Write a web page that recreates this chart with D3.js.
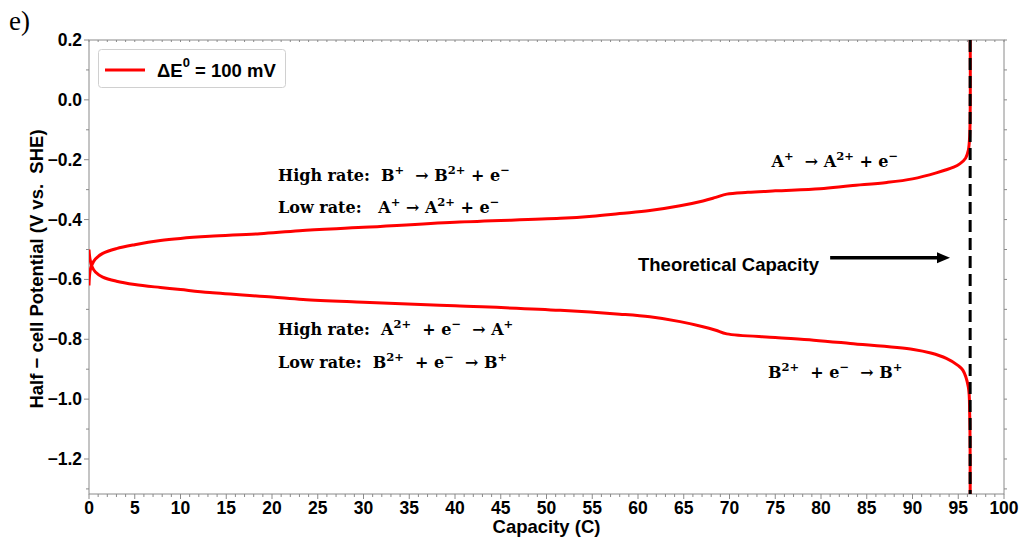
<!DOCTYPE html>
<html>
<head>
<meta charset="utf-8">
<script src="https://cdn.jsdelivr.net/npm/d3@7"></script>
<style>
  body { margin: 0; background: #fff; }
  text { white-space: pre; }
</style>
</head>
<body>
<div id="chart"></div>
<script>
// capacity (C) and potential (V)
var chargeCap = [0, 0.1, 0.3, 0.7, 1.5, 3, 5, 7.8, 10, 13.2, 18.7, 23, 30, 40, 51.5, 55, 58, 61.3, 64.6, 67.1, 68.5, 69.7, 72, 75, 79.9, 83.2, 87.2, 90, 92.6, 94.5, 95.2, 95.8, 96.1, 96.25, 96.3];
var chargeV   = [-0.62, -0.575, -0.552, -0.532, -0.513, -0.497, -0.484, -0.470, -0.463, -0.456, -0.447, -0.437, -0.426, -0.409, -0.396, -0.389, -0.380, -0.370, -0.354, -0.338, -0.326, -0.315, -0.309, -0.304, -0.297, -0.287, -0.276, -0.264, -0.244, -0.225, -0.213, -0.195, -0.169, -0.12, 0.25];

var dischargeCap = [0, 0.1, 0.3, 0.7, 1.5, 3, 5, 7.8, 10, 13.2, 20, 23.4, 30, 40, 51.5, 58, 61.3, 64.6, 67.1, 68.5, 69.7, 75, 79.2, 83.2, 90.1, 92, 93.7, 95, 95.5, 96.1, 96.25, 96.3];
var dischargeV   = [-0.50, -0.53, -0.555, -0.575, -0.592, -0.606, -0.617, -0.627, -0.634, -0.644, -0.659, -0.667, -0.676, -0.688, -0.703, -0.716, -0.725, -0.741, -0.758, -0.770, -0.782, -0.794, -0.803, -0.814, -0.834, -0.846, -0.864, -0.888, -0.903, -0.959, -1.05, -1.40];

var theoCap = 96.3;
var xTicks = d3.range(0, 101, 5);
var yTicks = [0.2, 0.0, -0.2, -0.4, -0.6, -0.8, -1.0, -1.2];

// annotation text: [capacity, potential, parts]  (parts: [text, superscript?])
var notes = [
  [20.66, -0.272, [["High rate:  B",0],["+",1],["  \u2192 B",0],["2+",1],[" + e",0],["\u2212",1]]],
  [20.66, -0.379, [["Low rate:   A",0],["+",1],[" \u2192 A",0],["2+",1],[" + e",0],["\u2212",1]]],
  [20.66, -0.786, [["High rate:  A",0],["2+",1],["  + e",0],["\u2212",1],["  \u2192 A",0],["+",1]]],
  [20.66, -0.896, [["Low rate:  B",0],["2+",1],["  + e",0],["\u2212",1],["  \u2192 B",0],["+",1]]],
  [74.6, -0.225, [["A",0],["+",1],["  \u2192 A",0],["2+",1],[" + e",0],["\u2212",1]]],
  [74.2, -0.930, [["B",0],["2+",1],["  + e",0],["\u2212",1],["  \u2192 B",0],["+",1]]]
];

var W = 1019, H = 539;
var svg = d3.select("#chart").append("svg")
  .attr("width", W).attr("height", H)
  .style("font-family", "'Liberation Sans', Arial, sans-serif");

var x = d3.scaleLinear().domain([0, 100]).range([89, 1004]);
var y = d3.scaleLinear().domain([-1.317, 0.2]).range([494, 40]);

svg.append("clipPath").attr("id", "clip")
  .append("rect")
  .attr("x", x(0)).attr("y", y(0.2))
  .attr("width", x(100) - x(0)).attr("height", y(-1.317) - y(0.2));

var gray = "#8a8a8a";

// frame
svg.append("rect")
  .attr("x", x(0)).attr("y", y(0.2))
  .attr("width", x(100) - x(0)).attr("height", y(-1.317) - y(0.2))
  .attr("fill", "none").attr("stroke", gray).attr("stroke-width", 1);

// bottom axis
var xAxis = svg.append("g").attr("transform", "translate(0," + y(-1.317) + ")");
xAxis.selectAll(".minor").data(d3.range(0, 101, 1)).enter().append("line")
  .attr("x1", function(d) { return x(d); }).attr("x2", function(d) { return x(d); })
  .attr("y1", 0).attr("y2", function(d) { return d % 5 == 0 ? 5 : 3; })
  .attr("stroke", gray);
xAxis.selectAll(".lab").data(xTicks).enter().append("text")
  .attr("x", function(d) { return x(d); }).attr("y", 20)
  .attr("text-anchor", "middle")
  .attr("font-size", 17.5).attr("font-weight", "bold")
  .text(function(d) { return d; });

// top ticks
svg.append("g").selectAll("line").data(d3.range(0, 101, 1)).enter().append("line")
  .attr("x1", function(d) { return x(d); }).attr("x2", function(d) { return x(d); })
  .attr("y1", y(0.2)).attr("y2", y(0.2) + 2)
  .attr("stroke", gray);

// left axis
var yMinor = d3.range(-13, 3).map(function(d) { return d / 10; });
var yAxis = svg.append("g").attr("transform", "translate(" + x(0) + ",0)");
yAxis.selectAll("line").data(yMinor).enter().append("line")
  .attr("y1", function(d) { return y(d); }).attr("y2", function(d) { return y(d); })
  .attr("x1", 0).attr("x2", function(d) { return Math.round(d * 10) % 2 == 0 ? -5 : -3; })
  .attr("stroke", gray);
yAxis.selectAll("text").data(yTicks).enter().append("text")
  .attr("x", -7).attr("y", function(d) { return y(d) + 6; })
  .attr("text-anchor", "end")
  .attr("font-size", 17.5).attr("font-weight", "bold")
  .text(function(d) { return d3.format(".1f")(d).replace("-", "\u2212"); });

// right ticks
svg.append("g").selectAll("line").data(yMinor).enter().append("line")
  .attr("y1", function(d) { return y(d); }).attr("y2", function(d) { return y(d); })
  .attr("x1", x(100)).attr("x2", x(100) + 3)
  .attr("stroke", gray);

// axis titles
svg.append("text")
  .attr("x", (x(0) + x(100)) / 2).attr("y", 533)
  .attr("text-anchor", "middle")
  .attr("font-size", 18.5).attr("font-weight", "bold")
  .text("Capacity (C)");
svg.append("text")
  .attr("transform", "translate(43," + ((y(0.2) + y(-1.317)) / 2 + 2) + ") rotate(-90)")
  .attr("text-anchor", "middle")
  .attr("font-size", 18.5).attr("font-weight", "bold")
  .text("Half \u2212 cell Potential (V vs.  SHE)");

// curves
var line = d3.line()
  .curve(d3.curveCatmullRom.alpha(0.5))
  .x(function(d) { return x(d[0]); })
  .y(function(d) { return y(d[1]); });

var plot = svg.append("g").attr("clip-path", "url(#clip)");

plot.append("path")
  .datum(d3.zip(chargeCap, chargeV))
  .attr("d", line)
  .attr("fill", "none").attr("stroke", "#ff0000").attr("stroke-width", 3)
  .attr("stroke-linejoin", "round");
plot.append("path")
  .datum(d3.zip(dischargeCap, dischargeV))
  .attr("d", line)
  .attr("fill", "none").attr("stroke", "#ff0000").attr("stroke-width", 3)
  .attr("stroke-linejoin", "round");

// theoretical capacity line (on top of the curves)
plot.append("line")
  .attr("x1", x(theoCap)).attr("x2", x(theoCap))
  .attr("y1", y(0.2)).attr("y2", y(-1.317))
  .attr("stroke", "#000").attr("stroke-width", 3)
  .attr("stroke-dasharray", "12,6");

// annotations
notes.forEach(function(n) {
  var t = svg.append("text")
    .attr("x", x(n[0])).attr("y", y(n[1]))
    .attr("font-family", "'DejaVu Serif', 'Liberation Serif', serif")
    .attr("font-size", 16).attr("font-weight", "bold");
  var up = false;
  n[2].forEach(function(p) {
    var s = t.append("tspan").text(p[0]);
    if (p[1] && !up) { s.attr("dy", -7).attr("font-size", 11.5); up = true; }
    else if (p[1]) { s.attr("font-size", 11.5); }
    else if (up) { s.attr("dy", 7); up = false; }
  });
});

svg.append("text")
  .attr("x", x(60)).attr("y", y(-0.571))
  .attr("font-size", 18.5).attr("font-weight", "bold")
  .text("Theoretical Capacity");

// arrow
svg.append("line")
  .attr("x1", x(81)).attr("x2", x(93.2))
  .attr("y1", y(-0.528)).attr("y2", y(-0.528))
  .attr("stroke", "#000").attr("stroke-width", 3.5);
svg.append("path")
  .attr("d", "M" + x(94.1) + "," + y(-0.528) + " l-13,-5.5 l0,11 z")
  .attr("fill", "#000");

// legend
var lg = svg.append("g");
lg.append("rect")
  .attr("x", 98.5).attr("y", 49.5).attr("width", 187).attr("height", 38)
  .attr("rx", 3).attr("fill", "#fff").attr("stroke", "#d0d0d0");
lg.append("line")
  .attr("x1", 105).attr("x2", 145).attr("y1", 70).attr("y2", 70)
  .attr("stroke", "#ff0000").attr("stroke-width", 3);
var lt = lg.append("text").attr("x", 157).attr("y", 77)
  .attr("font-size", 18.5).attr("font-weight", "bold");
lt.append("tspan").text("\u0394E");
lt.append("tspan").attr("dy", -10).attr("font-size", 13).text("0");
lt.append("tspan").attr("dy", 10).text(" = 100 mV");

// panel label
svg.append("text")
  .attr("x", 9).attr("y", 30)
  .attr("font-family", "'Liberation Serif', serif")
  .attr("font-size", 27)
  .text("e)");
</script>
</body>
</html>
